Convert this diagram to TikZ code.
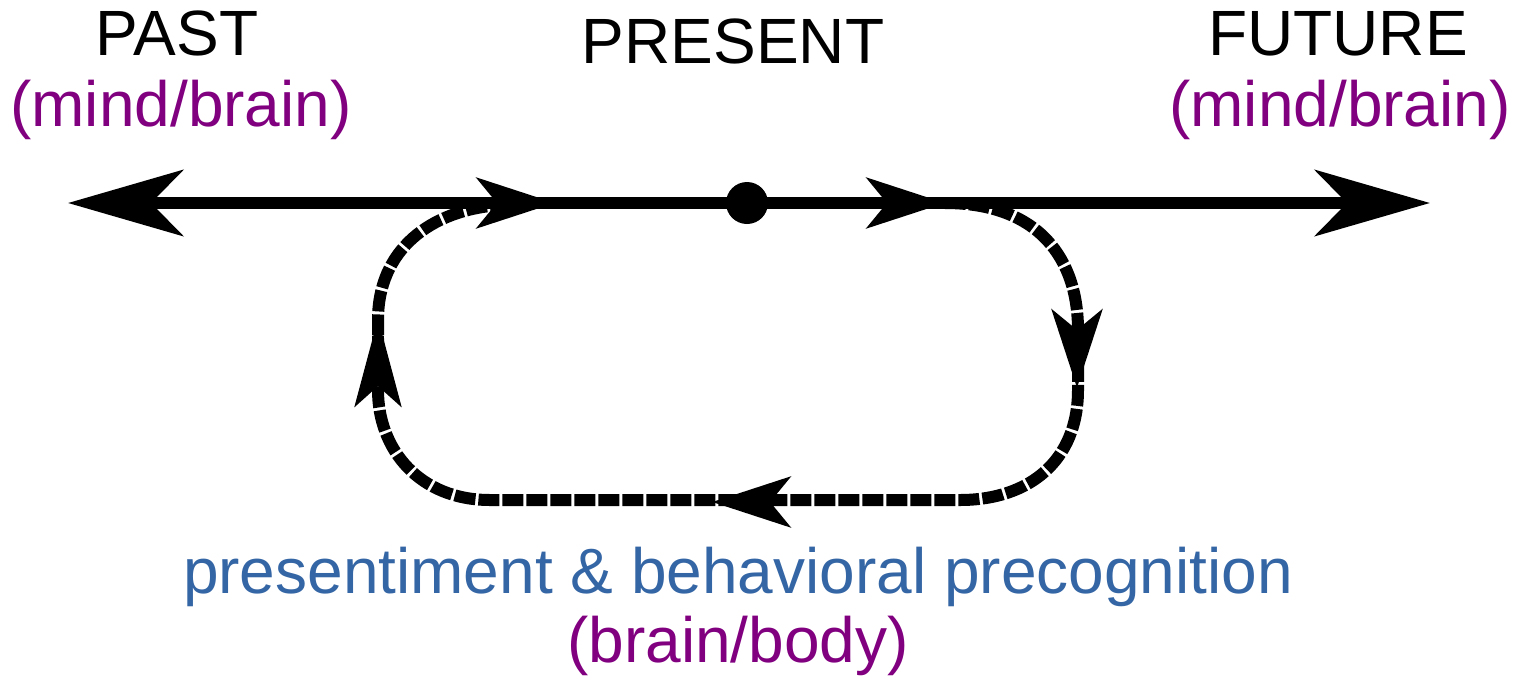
\documentclass[tikz,border=0pt]{standalone}
\usepackage{fontspec}
\setmainfont{Liberation Sans}
\usetikzlibrary{arrows.meta}
\definecolor{mypurple}{RGB}{128,0,128}
\definecolor{myblue}{RGB}{52,101,164}
\tikzset{
  bigtip/.tip={Stealth[length=115pt,width=66pt,inset=32pt]},
  midtip/.tip={Stealth[length=78pt,width=50pt,inset=20pt]},
  uptip/.tip={Stealth[length=88pt,width=46pt,inset=20pt]}}
\begin{document}
\begin{tikzpicture}[x=1pt,y=-1pt,
  lbl/.style={anchor=base,inner sep=0pt,font=\fontsize{64}{72}\selectfont},
  mainline/.style={line width=12pt,black},
  loopline/.style={line width=12pt,black,dash pattern=on 21pt off 3pt}]
\useasboundingbox (0,0) rectangle (1521,678);
% nodes
\node[lbl] (past) at (177,55) {PAST};
\node[lbl,text=mypurple] (pastmb) at (181,126) {(mind/brain)};
\node[lbl] (present) at (733,63) {PRESENT};
\node[lbl] (future) at (1338,55) {FUTURE};
\node[lbl,text=mypurple] (futmb) at (1340,126) {(mind/brain)};
\node[lbl,text=myblue] (presb) at (738,593) {presentiment \& behavioral precognition};
\node[lbl,text=mypurple] (bb) at (738,662) {(brain/body)};
% coordinates
\coordinate (L) at (68,203);
\coordinate (R) at (1430,203);
\coordinate (A1) at (555,203);
\coordinate (A1s) at (540,203);
\coordinate (A2) at (945,203);
\coordinate (A2s) at (930,203);
\coordinate (rt) at (1078,330);
\coordinate (rb) at (1078,390);
\coordinate (br) at (960,500);
\coordinate (bl) at (490,500);
\coordinate (lb) at (378,390);
\coordinate (lt) at (378,320);
\coordinate (jn) at (500,205);
% main timeline
\draw[mainline,bigtip-bigtip] (L) -- (R);
\node[circle,fill=black,minimum size=42pt,inner sep=0pt] (dot) at (747,203) {};
% loop
\draw[loopline] (A2) .. controls (1040,203) and (1078,260) .. (rt) -- (rb)
  .. controls (1078,460) and (1030,500) .. (br) -- (bl)
  .. controls (420,500) and (378,450) .. (lb) -- (lt)
  .. controls (378,250) and (430,210) .. (jn);
% arrow heads on the loop and line
\coordinate (ra1) at (1077,370); \coordinate (ra2) at (1077,388);
\coordinate (ba1) at (730,502); \coordinate (ba2) at (712,502);
\coordinate (la1) at (378,336); \coordinate (la2) at (378,318);
\draw[mainline,-midtip] (A1s) -- (A1);
\draw[mainline,-midtip] (A2s) -- (A2);
\draw[line width=12pt,-midtip] (ra1) -- (ra2);
\draw[line width=12pt,-midtip] (ba1) -- (ba2);
\draw[line width=12pt,-uptip] (la1) -- (la2);
\end{tikzpicture}
\end{document}
